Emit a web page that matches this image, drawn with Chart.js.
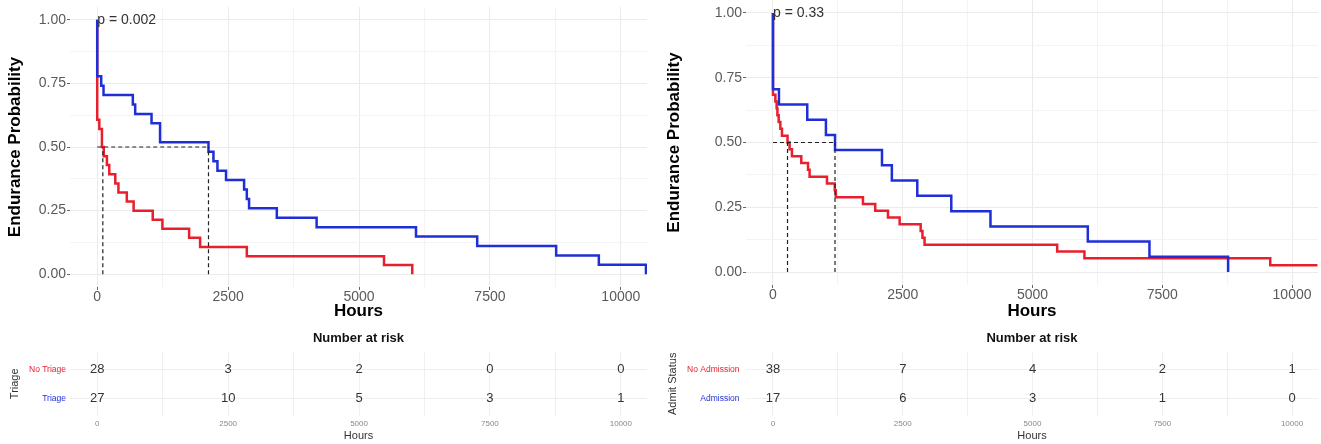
<!DOCTYPE html>
<html>
<head>
<meta charset="utf-8">
<script src="https://cdn.jsdelivr.net/npm/chart.js@4"></script>
<style>
  body { margin: 0; background: #fff; }
  #wrap { position: relative; width: 1321px; height: 444px; }
  canvas { position: absolute; }
</style>
</head>
<body>
<div id="wrap">
  <canvas id="km1" width="660" height="320" style="left:0px;top:0px"></canvas>
  <canvas id="rt1" width="660" height="124" style="left:0px;top:320px"></canvas>
  <canvas id="km2" width="661" height="320" style="left:660px;top:0px"></canvas>
  <canvas id="rt2" width="661" height="124" style="left:660px;top:320px"></canvas>
</div>
<script>
Chart.defaults.font.family = '"Liberation Sans", Arial, Helvetica, sans-serif';

var RED = '#e8202e', BLUE = '#1f2fd8';

// axis ticks (major get labels, minor only get a light grid line)
var xMajor = [0, 2500, 5000, 7500, 10000];
var xMinor = [1250, 3750, 6250, 8750];
var yMajor = [0, 0.25, 0.5, 0.75, 1];
var yMinor = [0.125, 0.375, 0.625, 0.875];
var xLimits = [-520, 10500];
var yLimits = [-0.05, 1.05];

// left plot: Triage
var noTriageHours = [0, 0, 40, 90, 125, 185, 230, 345, 405, 565, 695, 1060, 1245, 1755, 1965, 2857, 5477, 6017];
var noTriageSurv  = [1, 0.607, 0.571, 0.5, 0.464, 0.429, 0.393, 0.357, 0.321, 0.286, 0.25, 0.214, 0.179, 0.143, 0.107, 0.071, 0.036, 0];
var triageHours = [0, 0, 76, 120, 680, 725, 1037, 1200, 2125, 2220, 2296, 2460, 2805, 2857, 2900, 3430, 4190, 6088, 7257, 8765, 9580, 10480];
var triageSurv  = [1, 0.778, 0.741, 0.704, 0.667, 0.63, 0.593, 0.519, 0.481, 0.444, 0.407, 0.37, 0.333, 0.296, 0.259, 0.222, 0.185, 0.148, 0.111, 0.074, 0.037, 0];
var triageMedians = [107, 2125];
var triagePval = 'p = 0.002';
var triageGroups = ['No Triage', 'Triage'];

// right plot: Admit Status
var noAdmitHours = [0, 0, 46, 70, 85, 110, 142, 173, 280, 320, 365, 545, 675, 705, 1040, 1190, 1210, 1733, 1970, 2215, 2440, 2845, 2880, 2920, 5475, 6000, 9580, 10490];
var noAdmitSurv  = [1, 0.684, 0.658, 0.632, 0.605, 0.579, 0.553, 0.526, 0.5, 0.474, 0.447, 0.421, 0.395, 0.368, 0.342, 0.316, 0.289, 0.263, 0.237, 0.211, 0.184, 0.158, 0.132, 0.105, 0.079, 0.053, 0.026, 0.026];
var admitHours = [0, 0, 115, 660, 1020, 1195, 2100, 2290, 2780, 3435, 4190, 6065, 7253, 8768];
var admitSurv  = [1, 0.706, 0.647, 0.588, 0.529, 0.471, 0.412, 0.353, 0.294, 0.235, 0.176, 0.118, 0.059, 0];
var admitMedians = [280, 1195];
var admitPval = 'p = 0.33';
var admitGroups = ['No Admission', 'Admission'];

// number at risk
var riskHours = [0, 2500, 5000, 7500, 10000];
var triageRiskNo  = [28, 3, 2, 0, 0];
var triageRiskYes = [27, 10, 5, 3, 1];
var admitRiskNo   = [38, 7, 4, 2, 1];
var admitRiskYes  = [17, 6, 3, 1, 0];

function pts(xs, ys) {
  return xs.map(function (x, i) { return {x: x, y: ys[i]}; });
}
function tickList(a, b) {
  return a.concat(b).sort(function (p, q) { return p - q; }).map(function (v) { return {value: v}; });
}
function has(list, v) { return list.indexOf(v) >= 0; }

// p value written at (0, 1.00)
var pLabel = {
  id: 'pLabel',
  afterDatasetsDraw: function (chart, args, opts) {
    var ctx = chart.ctx;
    ctx.save();
    ctx.font = '14px "Liberation Sans", Arial, sans-serif';
    ctx.fillStyle = '#333';
    ctx.textAlign = 'left';
    ctx.textBaseline = 'middle';
    ctx.fillText(opts.text, chart.scales.x.getPixelForValue(0), chart.scales.y.getPixelForValue(1));
    ctx.restore();
  }
};

// risk counts written where the library placed each point
var riskLabels = {
  id: 'riskLabels',
  afterDatasetsDraw: function (chart) {
    var ctx = chart.ctx;
    ctx.save();
    ctx.font = '13px "Liberation Sans", Arial, sans-serif';
    ctx.fillStyle = '#333';
    ctx.textAlign = 'center';
    ctx.textBaseline = 'middle';
    chart.data.datasets.forEach(function (ds, i) {
      chart.getDatasetMeta(i).data.forEach(function (el, j) {
        ctx.fillText(String(ds.data[j].n), el.x, el.y);
      });
    });
    ctx.restore();
  }
};

function kmChart(id, box, noH, noS, yesH, yesS, medians, pText) {
  var dashed = {borderColor: '#222', borderWidth: 1.2, borderDash: [4, 3], showLine: true, pointRadius: 0};
  var sets = [Object.assign({data: [{x: 0, y: 0.5}, {x: Math.max.apply(null, medians), y: 0.5}]}, dashed)];
  medians.forEach(function (m) {
    sets.push(Object.assign({data: [{x: m, y: 0}, {x: m, y: 0.5}]}, dashed));
  });
  sets.push({data: pts(yesH, yesS), borderColor: BLUE, borderWidth: 2.5, showLine: true, stepped: true, pointRadius: 0});
  sets.push({data: pts(noH, noS), borderColor: RED, borderWidth: 2.5, showLine: true, stepped: true, pointRadius: 0});

  return new Chart(document.getElementById(id), {
    type: 'scatter',
    data: {datasets: sets},
    options: {
      responsive: false,
      animation: false,
      layout: {padding: {left: 0, right: box.pr, top: box.pt, bottom: 0}},
      plugins: {legend: {display: false}, tooltip: {enabled: false}, pLabel: {text: pText}},
      scales: {
        x: {
          min: xLimits[0], max: xLimits[1],
          afterBuildTicks: function (s) { s.ticks = tickList(xMajor, xMinor); },
          afterFit: function (s) { s.height = box.xh; s.paddingLeft = 0; s.paddingRight = 0; },
          ticks: {
            autoSkip: false, maxRotation: 0, padding: 0, color: '#5a5a5a',
            font: {size: 14, lineHeight: 1},
            callback: function (v) { return has(xMajor, v) ? String(v) : ''; }
          },
          grid: {
            color: function (c) { return c.tick && has(xMajor, c.tick.value) ? '#ebebeb' : '#f4f4f4'; },
            tickColor: function (c) { return c.tick && has(xMajor, c.tick.value) ? '#666' : 'rgba(0,0,0,0)'; },
            tickLength: 3
          },
          border: {display: false},
          title: {display: true, text: 'Hours', color: '#000', font: {size: 17, weight: 'bold', lineHeight: 1}, padding: {top: 0, bottom: 0}}
        },
        y: {
          min: yLimits[0], max: yLimits[1],
          afterBuildTicks: function (s) { s.ticks = tickList(yMajor, yMinor); },
          afterFit: function (s) { s.width = box.yw; s.paddingTop = 0; s.paddingBottom = 0; },
          ticks: {
            autoSkip: false, padding: 1, color: '#5a5a5a', font: {size: 14},
            callback: function (v) { return has(yMajor, v) ? v.toFixed(2) : ''; }
          },
          grid: {
            color: function (c) { return c.tick && has(yMajor, c.tick.value) ? '#ebebeb' : '#f4f4f4'; },
            tickColor: function (c) { return c.tick && has(yMajor, c.tick.value) ? '#666' : 'rgba(0,0,0,0)'; },
            tickLength: 3
          },
          border: {display: false},
          title: {display: true, text: 'Endurance Probability', color: '#000', font: {size: 17, weight: 'bold', lineHeight: 1}, padding: {top: box.tt, bottom: 0}}
        }
      }
    },
    plugins: [pLabel]
  });
}

function riskChart(id, box, groups, rowTitle, noRisk, yesRisk) {
  var rowNo = riskHours.map(function (t, i) { return {x: t, y: 2, n: noRisk[i]}; });
  var rowYes = riskHours.map(function (t, i) { return {x: t, y: 1, n: yesRisk[i]}; });
  return new Chart(document.getElementById(id), {
    type: 'scatter',
    data: {datasets: [{data: rowNo, pointRadius: 0}, {data: rowYes, pointRadius: 0}]},
    options: {
      responsive: false,
      animation: false,
      layout: {padding: {left: 0, right: box.pr, top: 0, bottom: 0}},
      plugins: {
        legend: {display: false},
        tooltip: {enabled: false},
        title: {
          display: true, text: 'Number at risk', fullSize: false, color: '#111',
          font: {size: 13, weight: 'bold'}, padding: {top: 11, bottom: 5}
        }
      },
      scales: {
        x: {
          min: xLimits[0], max: xLimits[1],
          afterBuildTicks: function (s) { s.ticks = tickList(xMajor, xMinor); },
          afterFit: function (s) { s.height = 28; s.paddingLeft = 0; s.paddingRight = 0; },
          ticks: {
            autoSkip: false, maxRotation: 0, padding: 3, color: '#888', font: {size: 8},
            callback: function (v) { return has(xMajor, v) ? String(v) : ''; }
          },
          grid: {color: '#efefef', drawTicks: false},
          border: {display: false},
          title: {display: true, text: 'Hours', color: '#333', font: {size: 11, lineHeight: 1}, padding: {top: 0, bottom: 2.5}}
        },
        y: {
          min: 0.4, max: 2.6,
          afterBuildTicks: function (s) { s.ticks = [{value: 1}, {value: 2}]; },
          afterFit: function (s) { s.width = box.yw; s.paddingTop = 0; s.paddingBottom = 0; },
          ticks: {
            padding: box.tp, font: {size: 8.5},
            color: function (c) { return c.tick && c.tick.value === 2 ? RED : BLUE; },
            callback: function (v) { return v === 2 ? groups[0] : groups[1]; }
          },
          grid: {color: '#efefef', drawTicks: false},
          border: {display: false},
          title: {display: true, text: rowTitle, color: '#333', font: {size: 11, lineHeight: 1}, padding: {top: box.tt, bottom: 0}}
        }
      }
    },
    plugins: [riskLabels]
  });
}

kmChart('km1', {yw: 70, xh: 33, pr: 13, pt: 7, tt: 7}, noTriageHours, noTriageSurv, triageHours, triageSurv, triageMedians, triagePval);
kmChart('km2', {yw: 86, xh: 35, pr: 3, pt: 0, tt: 5.5}, noAdmitHours, noAdmitSurv, admitHours, admitSurv, admitMedians, admitPval);
riskChart('rt1', {yw: 70, pr: 13, tp: 4, tt: 9.5}, triageGroups, 'Triage', triageRiskNo, triageRiskYes);
riskChart('rt2', {yw: 86, pr: 3, tp: 6.5, tt: 7}, admitGroups, 'Admit Status', admitRiskNo, admitRiskYes);
</script>
</body>
</html>
